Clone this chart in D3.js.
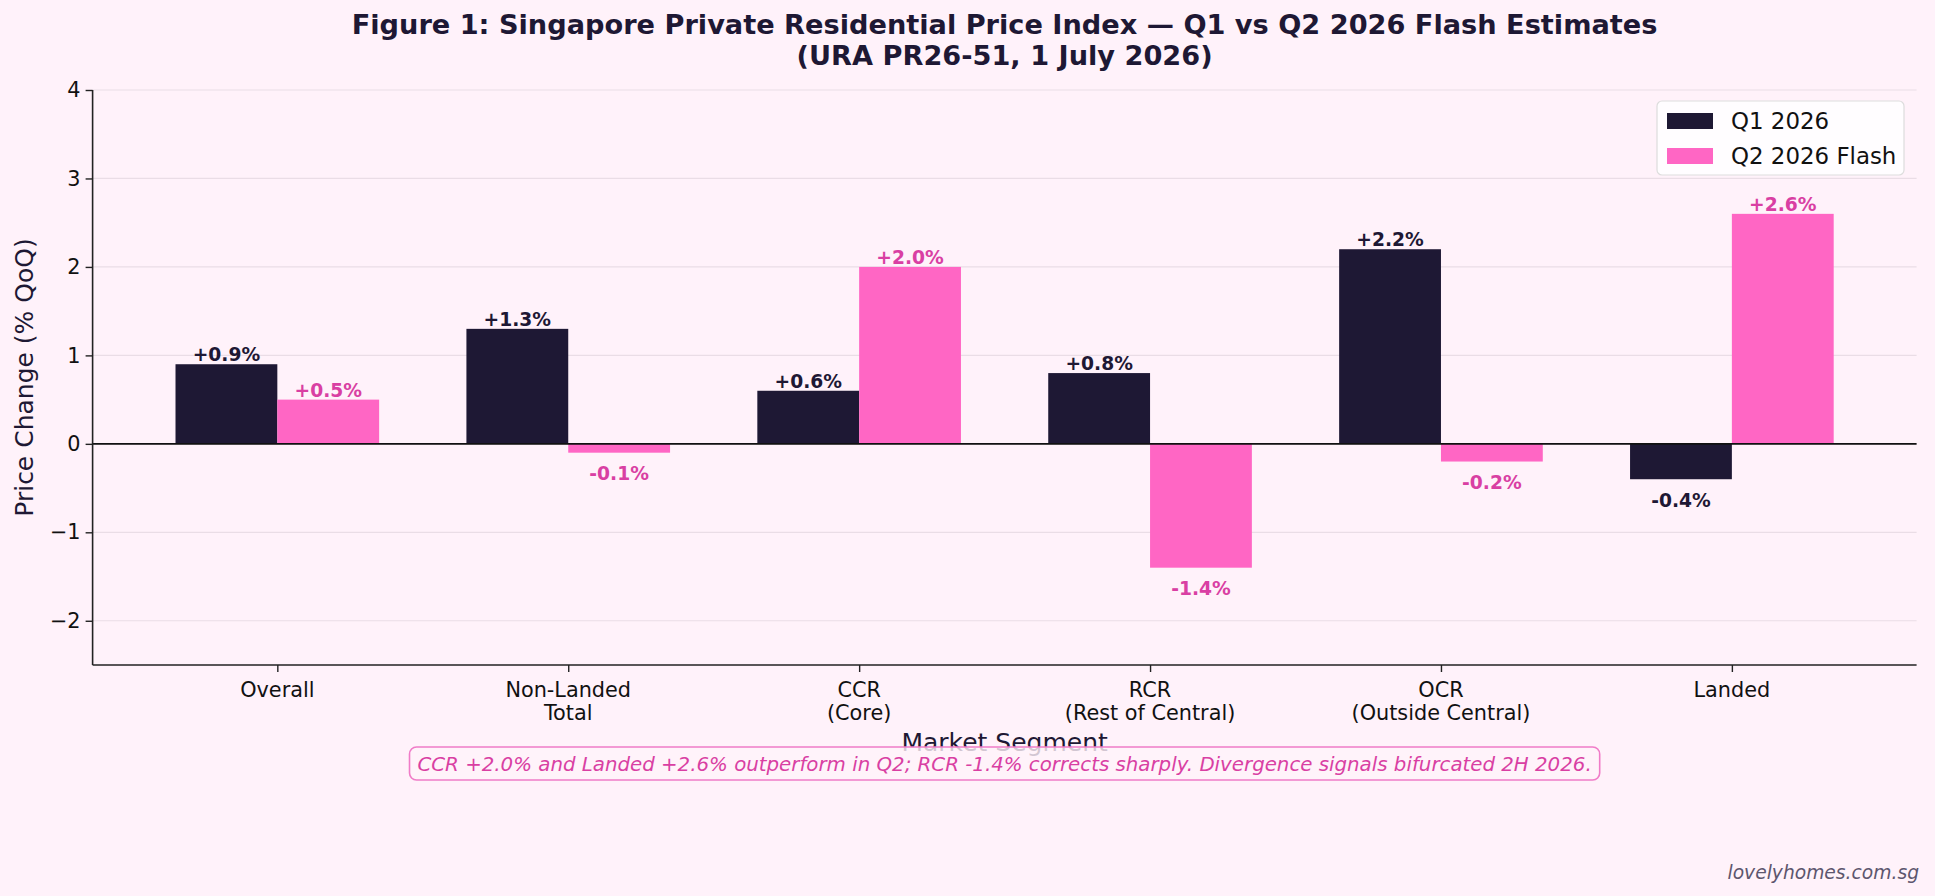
<!DOCTYPE html>
<html>
<head>
<meta charset="utf-8">
<script src="https://cdn.jsdelivr.net/npm/d3@7"></script>
<style>
  html, body { margin: 0; padding: 0; background: #fff2fa; }
  svg { display: block; font-family: "DejaVu Sans", sans-serif; }
</style>
</head>
<body>
<script>
// segments and QoQ changes
const segments = ["Overall", "Non-Landed\nTotal", "CCR\n(Core)", "RCR\n(Rest of Central)", "OCR\n(Outside Central)", "Landed"];
const q1Values = [0.9, 1.3, 0.6, 0.8, 2.2, -0.4];
const q2Values = [0.5, -0.1, 2.0, -1.4, -0.2, 2.6];
const seriesNames = ["Q1 2026", "Q2 2026 Flash"];
const yTicks = [-2, -1, 0, 1, 2, 3, 4];

const width = 1935, height = 896;
const margin = { left: 92.6, right: 1935 - 1916.6, top: 90, bottom: 896 - 665 };

const darkColor = "#1e1834";
const pinkColor = "#ff66c4";
const pinkText = "#d93fa3";

const svg = d3.select("body")
  .append("svg")
  .attr("width", width)
  .attr("height", height)
  .style("background-color", "#fff2fa");

// x in "category units", like matplotlib bar positions
const x = d3.scaleLinear()
  .domain([-0.635, segments.length - 1 + 0.635])
  .range([margin.left, width - margin.right]);

const y = d3.scaleLinear()
  .domain([-2.5, 4])
  .range([height - margin.bottom, margin.top]);

const barW = 0.35;

// gridlines
svg.append("g")
  .selectAll("line")
  .data(yTicks)
  .enter()
  .append("line")
  .attr("x1", margin.left)
  .attr("x2", width - margin.right)
  .attr("y1", d => y(d))
  .attr("y2", d => y(d))
  .attr("stroke", "#eadde6")
  .attr("stroke-width", 1.2);

// bars
const series = [
  { name: seriesNames[0], values: q1Values, offset: -barW, color: darkColor, text: darkColor },
  { name: seriesNames[1], values: q2Values, offset: 0, color: pinkColor, text: pinkText },
];

series.forEach(s => {
  svg.append("g")
    .selectAll("rect")
    .data(s.values)
    .enter()
    .append("rect")
    .attr("x", (d, i) => x(i + s.offset))
    .attr("width", x(barW) - x(0))
    .attr("y", d => y(Math.max(0, d)))
    .attr("height", d => Math.abs(y(d) - y(0)))
    .attr("fill", s.color);

  svg.append("g")
    .selectAll("text")
    .data(s.values)
    .enter()
    .append("text")
    .attr("x", (d, i) => x(i + s.offset + barW / 2))
    .attr("y", d => d >= 0 ? y(d) - 3 : y(d) + 14)
    .attr("dominant-baseline", d => d >= 0 ? "auto" : "hanging")
    .attr("text-anchor", "middle")
    .attr("font-size", 18.7)
    .attr("font-weight", "bold")
    .attr("fill", s.text)
    .text(d => (d >= 0 ? "+" : "") + d.toFixed(1) + "%");
});

// zero line
svg.append("line")
  .attr("x1", margin.left)
  .attr("x2", width - margin.right)
  .attr("y1", y(0))
  .attr("y2", y(0))
  .attr("stroke", "#111")
  .attr("stroke-width", 1.6);

// y axis
const yAxis = svg.append("g")
  .attr("transform", `translate(${margin.left},0)`)
  .call(d3.axisLeft(y).tickValues(yTicks).tickSize(7).tickPadding(5)
    .tickFormat(d => d < 0 ? "\u2212" + Math.abs(d) : d));
yAxis.select(".domain").attr("d", `M0,${y(4)}V${y(-2.5)}`).attr("stroke", "#222").attr("stroke-width", 1.6);
yAxis.selectAll(".tick line").attr("stroke", "#222").attr("stroke-width", 1.4);
yAxis.selectAll(".tick text").attr("font-size", 20.8).attr("fill", "#111").attr("font-family", "DejaVu Sans");

// x axis
const xAxis = svg.append("g")
  .attr("transform", `translate(0,${height - margin.bottom})`)
  .call(d3.axisBottom(x).tickValues(d3.range(segments.length)).tickSize(7).tickFormat(""));
xAxis.select(".domain").attr("d", `M${margin.left},0H${width - margin.right}`).attr("stroke", "#222").attr("stroke-width", 1.6);
xAxis.selectAll(".tick line").attr("stroke", "#222").attr("stroke-width", 1.4);

const xLabels = svg.append("g")
  .selectAll("text")
  .data(segments)
  .enter()
  .append("text")
  .attr("x", (d, i) => x(i))
  .attr("y", height - margin.bottom + 32)
  .attr("text-anchor", "middle")
  .attr("font-size", 20.8)
  .attr("fill", "#111");
xLabels.each(function (d) {
  const t = d3.select(this);
  d.split("\n").forEach((line, j) => {
    t.append("tspan").attr("x", t.attr("x")).attr("dy", j === 0 ? 0 : 23).text(line);
  });
});

// axis titles
svg.append("text")
  .attr("x", (margin.left + width - margin.right) / 2)
  .attr("y", 751)
  .attr("text-anchor", "middle")
  .attr("font-size", 25)
  .attr("fill", "#1e1834")
  .text("Market Segment");

svg.append("text")
  .attr("transform", `translate(33,${(y(4) + y(-2.5)) / 2}) rotate(-90)`)
  .attr("text-anchor", "middle")
  .attr("font-size", 25)
  .attr("fill", "#1e1834")
  .text("Price Change (% QoQ)");

// title
const cx = (margin.left + width - margin.right) / 2;
svg.append("text")
  .attr("x", cx).attr("y", 34)
  .attr("text-anchor", "middle")
  .attr("font-size", 27.2)
  .attr("font-weight", "bold")
  .attr("fill", "#1e1834")
  .text("Figure 1: Singapore Private Residential Price Index \u2014 Q1 vs Q2 2026 Flash Estimates");
svg.append("text")
  .attr("x", cx).attr("y", 65)
  .attr("text-anchor", "middle")
  .attr("font-size", 27.2)
  .attr("font-weight", "bold")
  .attr("fill", "#1e1834")
  .text("(URA PR26-51, 1 July 2026)");

// legend
const legend = svg.append("g").attr("transform", "translate(1657,101)");
legend.append("rect")
  .attr("width", 247).attr("height", 74).attr("rx", 5)
  .attr("fill", "#ffffff").attr("fill-opacity", 0.85)
  .attr("stroke", "#dddddd").attr("stroke-width", 1.2);
series.forEach((s, i) => {
  legend.append("rect")
    .attr("x", 10).attr("y", 12 + i * 35)
    .attr("width", 46).attr("height", 16)
    .attr("fill", s.color);
  legend.append("text")
    .attr("x", 74).attr("y", 20 + i * 35)
    .attr("dominant-baseline", "central")
    .attr("font-size", 22.9)
    .attr("fill", "#111")
    .text(s.name);
});

// annotation box
const note = svg.append("g");
const noteText = note.append("text")
  .attr("x", cx).attr("y", 764)
  .attr("text-anchor", "middle")
  .attr("dominant-baseline", "central")
  .attr("font-size", 19.8)
  .attr("font-style", "italic")
  .attr("fill", pinkText)
  .text("CCR +2.0% and Landed +2.6% outperform in Q2; RCR -1.4% corrects sharply. Divergence signals bifurcated 2H 2026.");
const bb = noteText.node().getBBox();
note.insert("rect", "text")
  .attr("x", bb.x - 8).attr("y", 747)
  .attr("width", bb.width + 16).attr("height", 33)
  .attr("rx", 7)
  .attr("fill", "#fff2fa").attr("fill-opacity", 0.8)
  .attr("stroke", "#f07cc8").attr("stroke-width", 1.6);

// footer
svg.append("text")
  .attr("x", 1919).attr("y", 879)
  .attr("text-anchor", "end")
  .attr("font-size", 18.7)
  .attr("font-style", "italic")
  .attr("fill", "#5d566e")
  .text("lovelyhomes.com.sg");
</script>
</body>
</html>
